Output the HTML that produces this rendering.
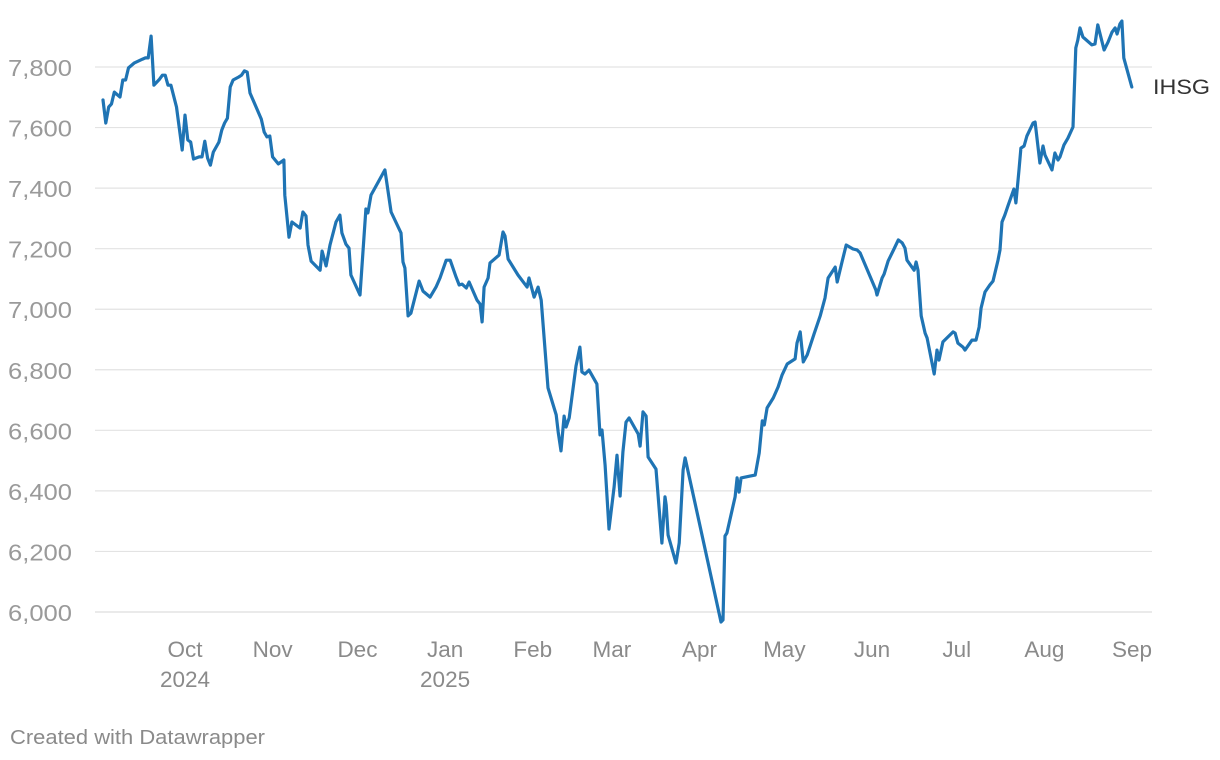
<!DOCTYPE html>
<html><head><meta charset="utf-8"><style>
html,body{margin:0;padding:0;background:#fff;width:1220px;height:760px;overflow:hidden;font-family:"Liberation Sans",Arial,sans-serif}
svg text{font-family:"Liberation Sans",Arial,sans-serif}
</style></head><body>
<svg id="chart" width="1220" height="760" xmlns="http://www.w3.org/2000/svg">
<g id="grid"></g>
<g id="yaxis"></g>
<g id="xaxis"></g>
<path id="line" fill="none" stroke="#1f74b4" stroke-width="3.2" stroke-linejoin="round" stroke-linecap="round"></path>
<text x="1153" y="94" font-size="21" fill="#333" textLength="57" lengthAdjust="spacingAndGlyphs">IHSG</text>
<text x="10" y="744" font-size="20" fill="#8a8a8a" textLength="255" lengthAdjust="spacingAndGlyphs">Created with Datawrapper</text>
</svg>
<script>
// days since 2024-09-01
const days=[1,2,3,4,5,7,8,9,10,12,15,16,17,18,19,21,22,23,24,25,27,29,30,31,32,33,35,36,37,38,39,40,42,43,44,45,46,47,49,50,51,52,53,55,57,58,59,60,61,63,65,65.3,66.8,67.8,70.7,71.7,72.8,73.5,74.6,77.8,78.5,79.9,81.3,83.4,84.8,85.5,86.9,88.0,88.7,91.9,94.0,94.7,95.8,100.7,102.9,106.4,107.1,107.8,108.9,109.9,112.8,114.2,116.7,118.8,120.2,122.4,123.8,125.9,127.0,128.0,129.5,130.5,133.3,134.4,135.1,135.8,137.2,137.9,141.1,142.5,143.2,144.3,147.8,151.0,151.7,153.5,154.9,156.0,158.4,161.3,162.0,163.0,164.1,164.8,165.9,168.3,169.7,170.4,171.5,172.9,175.7,176.8,177.5,178.6,180.0,181.8,182.8,183.9,184.9,186.0,187.1,190.3,191.0,192.0,193.1,193.8,196.6,197.7,198.7,199.8,200.2,200.9,203.7,204.8,206.2,206.9,210.4,219.6,220.3,221.0,221.7,224.6,225.3,226.0,226.7,229.9,231.7,233.1,234.2,234.9,235.9,238.1,239.8,241.2,243.0,245.8,246.5,247.6,248.7,250.1,252.5,254.7,256.4,257.5,260.0,260.7,262.4,263.9,266.3,267.7,268.8,274.4,274.8,276.6,277.3,278.7,280.8,282.3,283.7,284.7,285.4,287.9,288.6,289.3,290.4,291.8,292.5,295.0,296.0,296.7,298.1,301.7,302.4,303.4,305.2,305.9,308.4,309.8,310.9,311.6,313.0,314.7,315.8,317.6,318.3,319.0,320.0,321.1,323.2,323.9,325.0,325.7,326.8,327.8,330.0,330.7,332.4,333.5,334.2,336.7,337.7,338.8,339.5,340.9,342.3,344.1,345.1,345.8,346.6,347.6,350.8,351.9,352.9,355.1,356.5,357.9,359.0,359.7,360.7,361.4,362.1,364.9];
const values=[7691,7615,7668,7678,7717,7701,7757,7757,7797,7813,7826,7830,7830,7902,7740,7760,7773,7773,7740,7740,7668,7526,7641,7559,7552,7496,7503,7503,7555,7499,7476,7519,7552,7592,7615,7631,7734,7757,7767,7773,7787,7783,7714,7671,7628,7585,7569,7572,7503,7480,7493,7377,7238,7288,7268,7321,7308,7212,7159,7129,7192,7143,7212,7288,7311,7252,7215,7202,7113,7047,7331,7318,7377,7460,7321,7252,7156,7136,6978,6987,7093,7060,7040,7073,7103,7162,7162,7106,7080,7083,7070,7090,7030,7017,6958,7073,7103,7153,7179,7255,7242,7166,7113,7073,7103,7040,7073,7030,6740,6651,6594,6532,6647,6611,6641,6812,6875,6793,6786,6799,6753,6585,6601,6485,6274,6413,6518,6383,6528,6627,6641,6588,6548,6661,6647,6512,6472,6343,6228,6380,6353,6254,6162,6228,6469,6509,6360,5967,5974,6251,6261,6380,6443,6396,6443,6449,6452,6525,6631,6618,6674,6707,6743,6783,6819,6836,6888,6925,6826,6849,6918,6978,7037,7103,7139,7090,7156,7212,7199,7196,7186,7063,7047,7103,7116,7159,7199,7229,7219,7202,7162,7129,7156,7129,6978,6921,6905,6786,6865,6832,6892,6925,6921,6888,6875,6865,6898,6898,6941,7004,7057,7080,7093,7162,7196,7288,7311,7341,7397,7351,7460,7532,7539,7572,7615,7618,7483,7539,7509,7460,7516,7493,7503,7542,7565,7602,7863,7889,7929,7899,7873,7876,7939,7856,7882,7915,7929,7909,7942,7952,7830,7734];
const yTicks=[6000,6200,6400,6600,6800,7000,7200,7400,7600,7800];
const monthDays=[30,61,91,122,153,181,212,242,273,303,334,365];
const monthLabels=["Oct","Nov","Dec","Jan","Feb","Mar","Apr","May","Jun","Jul","Aug","Sep"];
const yearLabels={"Oct":"2024","Jan":"2025"};

const NS="http://www.w3.org/2000/svg";
function xs(d){return 185+(d-30)*2.827;}
function ys(v){return 612-(v-6000)*(545/1800);}
const grid=document.getElementById('grid'),yaxis=document.getElementById('yaxis'),xaxis=document.getElementById('xaxis');
yTicks.forEach(t=>{
  const l=document.createElementNS(NS,'line');
  l.setAttribute('x1',95);l.setAttribute('x2',1152);
  l.setAttribute('y1',ys(t));l.setAttribute('y2',ys(t));
  l.setAttribute('stroke','#e3e3e3');l.setAttribute('stroke-width',t===6000?1.5:1.2);
  
  
  grid.appendChild(l);
  const tx=document.createElementNS(NS,'text');
  tx.setAttribute('x',8);tx.setAttribute('y',ys(t)+9);
  tx.setAttribute('font-size','23');tx.setAttribute('fill','#9a9a9a');
  tx.setAttribute('textLength','64');tx.setAttribute('lengthAdjust','spacingAndGlyphs');
  tx.textContent=t.toLocaleString('en-US');
  
  
  yaxis.appendChild(tx);
});
monthDays.forEach((d,i)=>{
  const tx=document.createElementNS(NS,'text');
  tx.setAttribute('x',xs(d));tx.setAttribute('y',657);
  tx.setAttribute('text-anchor','middle');tx.setAttribute('font-size','22.5');tx.setAttribute('fill','#8a8a8a');
  tx.textContent=monthLabels[i];
  
  
  xaxis.appendChild(tx);
  const yl=yearLabels[monthLabels[i]];
  if(yl){
    const t2=document.createElementNS(NS,'text');
    t2.setAttribute('x',xs(d));t2.setAttribute('y',687);
    t2.setAttribute('text-anchor','middle');t2.setAttribute('font-size','22.5');t2.setAttribute('fill','#8a8a8a');
    t2.textContent=yl;
    
    
    xaxis.appendChild(t2);
  }
});
let dpath='';
days.forEach((d,i)=>{dpath+=(i?'L':'M')+xs(d).toFixed(1)+','+ys(values[i]).toFixed(1);});
document.getElementById('line').setAttribute('d',dpath);
</script>
</body></html>
